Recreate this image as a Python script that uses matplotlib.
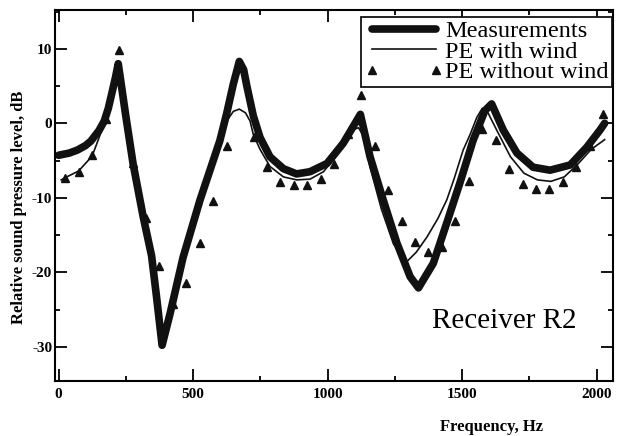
import matplotlib
matplotlib.use("Agg")
import matplotlib.pyplot as plt
from matplotlib.ticker import MultipleLocator

# Measurements (thick line)
meas_f = [0, 40, 70, 100, 120, 150, 170, 185, 200, 212, 222, 250, 277, 315, 346, 365,
          385, 415, 463, 526, 588, 600, 625, 650, 672, 688, 700, 724, 749, 786, 836, 885,
          935, 998, 1058, 1109, 1122, 1158, 1207, 1258, 1307, 1338, 1393, 1443, 1492,
          1541, 1585, 1610, 1653, 1704, 1764, 1827, 1902, 1964, 2013, 2030]
meas_db = [-4.3, -4.0, -3.6, -3.0, -2.4, -1.0, 0.3, 2.0, 4.3, 6.2, 8.0, 1.0, -5.4, -12.6,
           -17.8, -23.5, -29.8, -25.5, -18.0, -10.3, -3.6, -2.3, 1.3, 5.3, 8.3, 7.2, 5.0,
           1.0, -1.9, -4.5, -6.1, -6.8, -6.5, -5.4, -2.7, 0.4, 1.2, -4.5, -10.3, -16.1,
           -20.6, -22.1, -18.8, -13.4, -8.0, -2.3, 1.7, 2.6, -0.9, -4.0, -5.9, -6.3, -5.6,
           -3.2, -0.9, 0.0]

# PE with wind (thin line)
wind_f = [10, 25, 75, 125, 150, 165, 180, 200, 212, 222, 250, 277, 315, 346, 365, 383,
          415, 463, 526, 588, 625, 650, 672, 695, 712, 724, 749, 786, 836, 885, 935, 985,
          1030, 1070, 1100, 1115, 1135, 1158, 1200, 1245, 1294, 1330, 1369, 1410, 1443,
          1470, 1504, 1530, 1555, 1575, 1595, 1630, 1680, 1730, 1780, 1830, 1880, 1930,
          1980, 2030]
wind_db = [-7.6, -7.3, -6.4, -4.4, -2.0, -0.5, 1.2, 4.2, 6.0, 7.8, 1.0, -5.4, -12.8, -17.8,
           -23.5, -28.5, -25.8, -18.5, -10.8, -4.0, 0.3, 1.6, 1.9, 1.4, 0.3, -1.5, -3.5,
           -5.8, -7.2, -7.6, -7.5, -6.5, -4.5, -2.0, -0.8, -0.6, -1.8, -5.9, -11.5, -16.2,
           -18.6, -17.3, -15.3, -12.8, -10.3, -7.5, -3.6, -1.5, 0.8, 2.0, 1.5, -1.0, -4.5,
           -6.7, -7.6, -7.8, -7.2, -5.5, -3.5, -2.2]

# PE without wind (triangles)
nowind_f = [25, 75, 125, 175, 225, 275, 325, 375, 425, 475, 525, 575, 625, 675, 725, 775,
            825, 875, 925, 975, 1025, 1075, 1125, 1175, 1225, 1275, 1325, 1375, 1425,
            1475, 1525, 1575, 1625, 1675, 1725, 1775, 1825, 1875, 1925, 1975, 2025]
nowind_db = [-7.4, -6.5, -4.3, 0.6, 9.8, -5.4, -12.7, -19.1, -24.2, -21.5, -16.1, -10.5,
             -3.1, 7.5, -1.8, -5.9, -7.9, -8.3, -8.3, -7.5, -5.5, -1.4, 3.8, -3.0, -8.9,
             -13.1, -15.9, -17.3, -16.6, -13.1, -7.8, -0.8, -2.3, -6.1, -8.1, -8.8, -8.8,
             -7.9, -5.9, -3.0, 1.3]

plt.rcParams["axes.unicode_minus"] = False
serif = ["Liberation Serif", "DejaVu Serif"]

fig = plt.figure(figsize=(6.21, 4.36), dpi=100)
ax = fig.add_axes([0.0886, 0.1261, 0.8985, 0.8509])

ax.plot(meas_f, meas_db, color="#111111", lw=5.5, solid_joinstyle="round",
        solid_capstyle="round", label="Measurements")
ax.plot(wind_f, wind_db, color="#111111", lw=1.2, label="PE with wind")
ax.plot(nowind_f, nowind_db, ls="none", marker="^", ms=5.5, color="#111111",
        label="PE without wind")

ax.set_xlim(-13, 2061)
ax.set_ylim(-34.6, 15.2)

# ticks on all four sides, pointing in
ax.xaxis.set_major_locator(MultipleLocator(500))
ax.xaxis.set_minor_locator(MultipleLocator(250))
ax.yaxis.set_major_locator(MultipleLocator(10))
ax.yaxis.set_minor_locator(MultipleLocator(5))
ax.tick_params(which="both", direction="in", top=True, right=True, width=1.3)
ax.tick_params(which="major", length=8.5)
ax.tick_params(which="minor", length=3.6)
ax.tick_params(axis="x", pad=5)
ax.tick_params(axis="y", pad=2)
for lab in ax.get_xticklabels() + ax.get_yticklabels():
    lab.set_family(serif)
    lab.set_fontweight("bold")
    lab.set_fontsize(11)
for sp in ax.spines.values():
    sp.set_linewidth(1.5)

ax.set_xlabel("Frequency, Hz", family=serif, fontweight="bold", fontsize=12)
ax.xaxis.set_label_coords(0.783, -0.102)
ax.set_ylabel("Relative sound pressure level, dB", family=serif, fontweight="bold",
              fontsize=12)
ax.yaxis.set_label_coords(-0.05, 0.468)

ax.text(0.935, 0.162, "Receiver R2", transform=ax.transAxes, family=serif, fontsize=21,
        ha="right", va="center")

leg = ax.legend(loc="upper right", bbox_to_anchor=(0.999, 0.982),
                prop={"family": serif, "size": 17.5}, frameon=True, fancybox=False,
                edgecolor="#111111", framealpha=1, numpoints=2,
                handlelength=3.2, handletextpad=0.1, labelspacing=-0.06,
                borderpad=0.15, borderaxespad=0)
leg.get_frame().set_linewidth(1.3)

fig.savefig("out.png", dpi=100)
